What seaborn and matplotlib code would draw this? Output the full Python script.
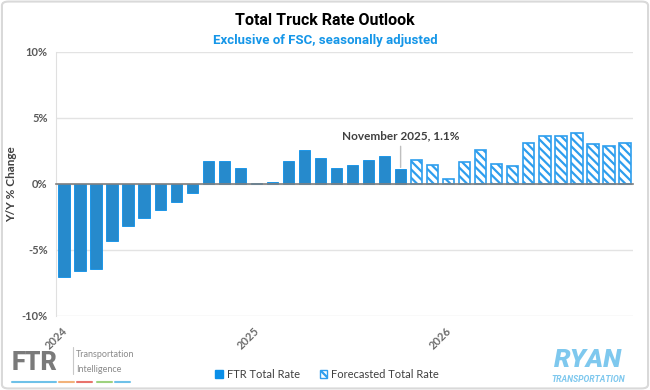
import pandas as pd
import matplotlib.pyplot as plt
import seaborn as sns
from matplotlib.patches import Patch, FancyBboxPatch
from matplotlib.lines import Line2D
import matplotlib.transforms as mtransforms

# monthly Y/Y % change, 36 months
months = pd.date_range("2024-02-01", periods=36, freq="MS").strftime("%b %Y").tolist()
actual = [-7.05, -6.6, -6.45, -4.3, -3.2, -2.6, -2.0, -1.4, -0.7, 1.77, 1.7, 1.23,
          0.05, 0.13, 1.77, 2.58, 1.95, 1.23, 1.44, 1.82, 2.15, 1.1]
forecast = [1.82, 1.44, 0.40, 1.69, 2.55, 1.52, 1.34, 3.08, 3.59, 3.59, 3.86, 3.0, 2.85, 3.08]
year_labels = ["2024", "2025", "2026"]
year_ticks = [-0.5, 11.5, 23.5]
yticks = [-10, -5, 0, 5, 10]

BLUE = "#0A8FE8"
HATCH_BLUE = "#2E9EEE"
GRAY = "#595959"

df = pd.DataFrame({
    "month": months,
    "change": actual + forecast,
    "series": ["FTR Total Rate"] * len(actual) + ["Forecasted Total Rate"] * len(forecast),
})

sns.set_style("white")
plt.rcParams["font.family"] = ["Lato", "DejaVu Sans"]
plt.rcParams["hatch.linewidth"] = 1.6

fig = plt.figure(figsize=(6.5, 3.9), dpi=100)
ax = fig.add_axes([0.086, 0.19, 0.888, 0.677])

sns.barplot(data=df, x="month", y="change", hue="series", order=months,
            palette={"FTR Total Rate": BLUE, "Forecasted Total Rate": "white"},
            dodge=False, width=0.7, legend=False, ax=ax)

for bar in ax.containers[0]:
    bar.set_edgecolor(BLUE)
    bar.set_linewidth(0.6)
for bar in ax.containers[1]:
    bar.set_hatch("\\\\\\\\")
    bar.set_edgecolor(HATCH_BLUE)
    bar.set_linewidth(1.2)

ax.set_xlim(-0.5, 35.5)
ax.set_ylim(-10, 10)
ax.set_yticks(yticks)
ax.set_yticklabels([f"{v}%" for v in yticks], color=GRAY, fontsize=8, fontweight="bold")
ax.yaxis.grid(True, color="#E3E3E3", lw=1)
ax.set_axisbelow(True)
ax.set_xlabel("")
ax.set_ylabel("Y/Y % Change", color="#404040", fontsize=8.5, fontweight="bold")
ax.yaxis.set_label_coords(-0.068, 0.5)
ax.tick_params(axis="y", length=0, pad=6)

for s in ["top", "right"]:
    ax.spines[s].set_visible(False)
ax.spines["left"].set_color("#E0E0E0")
ax.spines["bottom"].set_position(("data", 0))
ax.spines["bottom"].set_color("#7F7F7F")
ax.spines["bottom"].set_linewidth(1.2)
ax.set_xticks(year_ticks)
ax.set_xticklabels([])
ax.tick_params(axis="x", direction="inout", length=6, color="#7F7F7F", width=1)

trans = mtransforms.blended_transform_factory(ax.transData, ax.transAxes)
for pos, lab in zip(year_ticks, year_labels):
    ax.text(pos, -0.035, lab, transform=trans, rotation=45, ha="center", va="top",
            fontsize=8, color="#6B6B6B", fontweight="bold")

# callout for last actual month
last = len(actual) - 1
ax.annotate(f"November 2025, {actual[-1]:.1f}%", xy=(last, actual[-1] + 0.15),
            xytext=(last, 3.2), ha="center", va="bottom", fontsize=8.5,
            color="#404040", fontweight="bold",
            arrowprops=dict(arrowstyle="-", color="#BFBFBF", lw=1, shrinkA=1, shrinkB=0))

fig.text(0.5, 0.948, "Total Truck Rate Outlook", ha="center", va="center",
         fontsize=11.5, fontweight="bold", color="black", family=["Roboto", "DejaVu Sans"])
fig.text(0.5, 0.897, "Exclusive of FSC, seasonally adjusted", ha="center", va="center",
         fontsize=9.5, fontweight="bold", color="#1596E8", family=["Roboto", "DejaVu Sans"])

handles = [Patch(facecolor=BLUE, edgecolor=BLUE),
           Patch(facecolor="white", edgecolor=HATCH_BLUE, hatch="\\\\\\\\")]
fig.legend(handles, ["FTR Total Rate", "Forecasted Total Rate"], loc="center",
           bbox_to_anchor=(0.503, 0.041), ncol=2, frameon=False, fontsize=8,
           handlelength=0.7, handleheight=0.7, handletextpad=0.3, columnspacing=1.8,
           labelcolor="#404040")

# FTR logo
fig.text(0.018, 0.07, "FTR", fontsize=18, fontweight="black", color="#7A7A7A",
         ha="left", va="center", family=["Roboto", "DejaVu Sans"])
fig.add_artist(Line2D([0.112, 0.112], [0.04, 0.11], color="#C8C8C8", lw=0.8))
fig.text(0.117, 0.09, "Transportation", fontsize=6.5, color="#8A8A8A", ha="left", va="center")
fig.text(0.117, 0.052, "Intelligence", fontsize=6.5, color="#8A8A8A", ha="left", va="center")
for x0, x1, c in [(0.019, 0.086, "#6EC1E8"), (0.091, 0.114, "#F2B27A"), (0.118, 0.141, "#E8736C"),
                  (0.149, 0.172, "#9ED27E"), (0.177, 0.2, "#6EC1E8")]:
    fig.add_artist(Line2D([x0, x1], [0.02, 0.02], color=c, lw=1.5))

# RYAN logo
fig.text(0.905, 0.078, "RYAN", fontsize=19, fontweight="black", fontstyle="italic",
         color="#7EC8EE", ha="center", va="center", family=["Roboto", "DejaVu Sans"])
fig.text(0.905, 0.027, "TRANSPORTATION", fontsize=6.2, fontweight="bold", fontstyle="italic",
         color="#7EC8EE", ha="center", va="center", family=["Roboto", "DejaVu Sans"])

fig.add_artist(FancyBboxPatch((0.003, 0.004), 0.994, 0.992, boxstyle="round,pad=0,rounding_size=0.01",
                              transform=fig.transFigure, facecolor="none", edgecolor="#D9D9D9", lw=1.5))

fig.savefig("out.png", dpi=100, facecolor="white")
